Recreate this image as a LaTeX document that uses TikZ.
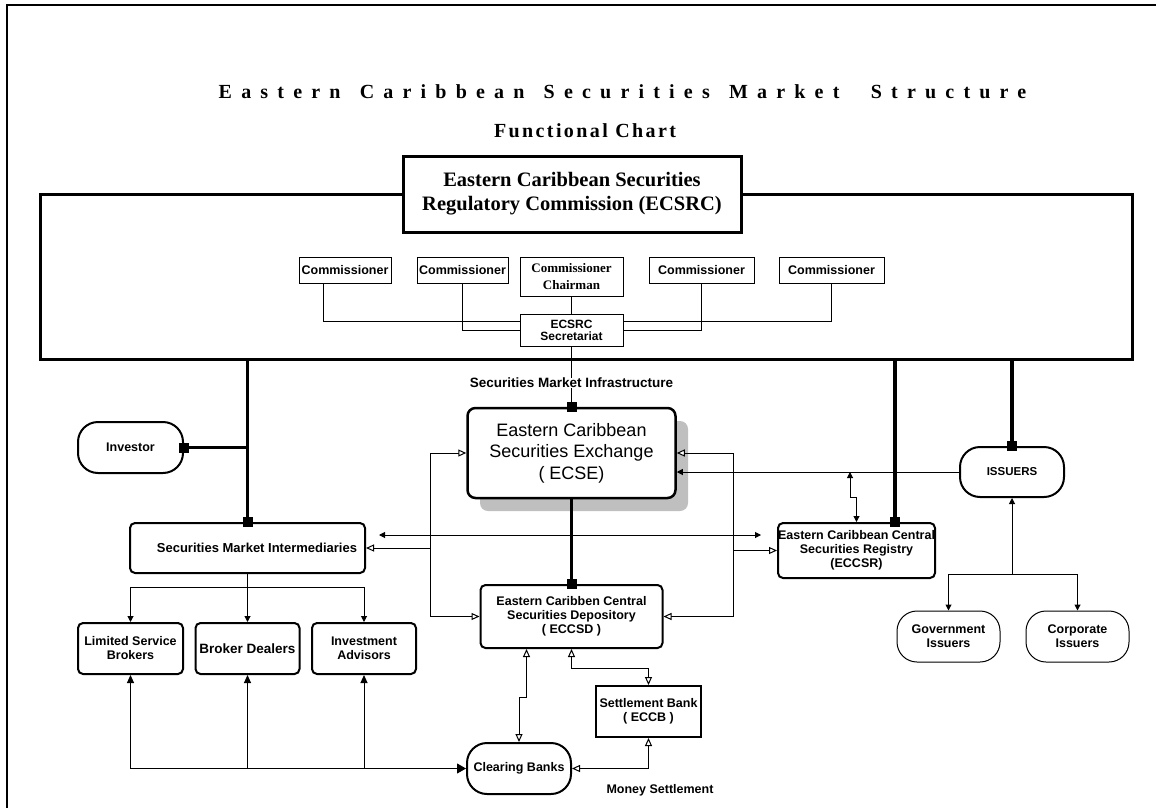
\documentclass[tikz,border=0pt]{standalone}
\usepackage{fontspec}
\setmainfont{Liberation Serif}
\setsansfont{Liberation Sans}
\newfontfamily\titlefont[LetterSpace=46]{Liberation Serif}
\newfontfamily\chartfont[LetterSpace=12]{Liberation Serif}
\usetikzlibrary{arrows.meta,shadows}

\begin{document}
\begin{tikzpicture}[x=1pt, y=-1pt, line width=1pt,
    lbl/.style={font=\sffamily\bfseries\fontsize{12.5}{14}\selectfont, align=center, inner sep=0pt},
    cbox/.style={draw, fill=white, lbl},
    rbox/.style={draw, fill=white, rounded corners=5pt, line width=2pt, lbl},
    pill/.style={draw, fill=white, rounded corners=20pt, line width=2pt, lbl},
    thickln/.style={line width=3.5pt},
    sqtip/.style={-{Square[length=10pt,width=10pt]}, shorten >=-5pt},
    solid/.style={-{Triangle[length=6pt,width=6pt]}},
    solidboth/.style={{Triangle[length=6pt,width=6pt]}-{Triangle[length=6pt,width=6pt]}},
    hollow/.style={-{Triangle[open,length=8pt,width=7pt,fill=white]}},
    hollowboth/.style={{Triangle[open,length=8pt,width=7pt,fill=white]}-{Triangle[open,length=8pt,width=7pt,fill=white]}}
]
    \def\wgap{\hspace{5pt}}
    \useasboundingbox (0,0) rectangle (1156,808);
    \draw[line width=2pt] (7,808) -- (7,5) -- (1156,5);

    % titles
    \node[font=\titlefont\bfseries\fontsize{20}{22}\selectfont, anchor=base] (title) at (622.5,98)
        {Eastern\wgap{} Caribbean\wgap{} Securities\wgap{} Market\ \ \hspace{3pt}Structure};
    \node[font=\chartfont\bfseries\fontsize{20}{22}\selectfont, anchor=base] (chart) at (585,137) {Functional Chart};

    % commission
    \node[draw, line width=3pt, minimum width=1092pt, minimum height=165pt] (board) at (586,276.5) {};
    \node[draw, fill=white, line width=3pt, minimum width=338pt, minimum height=76pt, align=center,
          font=\bfseries\fontsize{20.5}{24}\selectfont] (ecsrc) at (572,194) {Eastern Caribbean Securities\\Regulatory Commission (ECSRC)};
    \foreach \x/\w/\n in {345/92/c1, 462.5/91/c2, 701.5/105/c4, 831.5/105/c5}
        \node[cbox, minimum width=\w pt, minimum height=26pt] (\n) at (\x,270) {Commissioner};
    \node[cbox, minimum width=103pt, minimum height=39pt, font=\bfseries\fontsize{13}{17}\selectfont] (chair) at (571.5,276.5) {Commissioner\\Chairman};
    \node[cbox, minimum width=103pt, minimum height=32pt, font=\sffamily\bfseries\fontsize{12}{12}\selectfont] (sec) at (571.5,330) {ECSRC\\Secretariat};
    \draw ([xshift=-22pt]c1.south) |- ([yshift=9pt]sec.west);
    \draw (c2.south) |- (sec.west);
    \draw (c4.south) |- (sec.east);
    \draw (c5.south) |- ([yshift=9pt]sec.east);
    \draw (chair.south) -- (sec.north);

    % infrastructure
    \node[lbl, font=\sffamily\bfseries\fontsize{13.5}{15}\selectfont] (smi) at (571.5,383) {Securities Market Infrastructure};
    \node[draw, fill=white, rounded corners=8pt, line width=2.5pt, minimum width=208pt, minimum height=90pt, align=center,
          font=\sffamily\fontsize{18}{21.5}\selectfont,
          drop shadow={shadow xshift=12.5pt, shadow yshift=-13pt, fill=black!25, opacity=1}] (ecse) at (571.5,453) {Eastern Caribbean\\Securities Exchange\\( ECSE)};
    \node[rbox, minimum width=182pt, minimum height=63pt] (eccsd) at (571.5,616.5) {Eastern Caribben Central\\Securities Depository\\( ECCSD )};
    \node[rbox, minimum width=157pt, minimum height=55pt] (eccsr) at (856.5,550.5) {Eastern Caribbean Central\\Securities Registry\\(ECCSR)};
    \node[cbox, line width=2pt, minimum width=105pt, minimum height=51pt] (sb) at (648.5,711.5) {Settlement Bank\\( ECCB )};
    \node[pill, minimum width=104pt, minimum height=51pt] (cb) at (519,768.5) {Clearing Banks};
    \node[lbl] (money) at (660,790) {Money Settlement};

    % market side
    \node[pill, minimum width=105pt, minimum height=51pt] (inv) at (130.5,447.5) {Investor};
    \node[rbox, minimum width=235pt, minimum height=50pt, font=\sffamily\bfseries\fontsize{13}{14}\selectfont] (inter) at (247.5,548) {\hspace{19pt}Securities Market Intermediaries};
    \node[rbox, minimum width=105pt, minimum height=51pt] (lsb) at (130.5,648.5) {Limited Service\\Brokers};
    \node[rbox, minimum width=104pt, minimum height=51pt, font=\sffamily\bfseries\fontsize{13.5}{14}\selectfont] (bd) at (247.5,648.5) {Broker Dealers};
    \node[rbox, minimum width=104pt, minimum height=51pt] (ia) at (364,648.5) {Investment\\Advisors};
    \node[pill, minimum width=104pt, minimum height=50pt, font=\sffamily\bfseries\fontsize{11.5}{14}\selectfont] (issuers) at (1012,472) {ISSUERS};
    \node[pill, line width=1pt, minimum width=103pt, minimum height=51pt] (gov) at (948.5,636.5) {Government\\Issuers};
    \node[pill, line width=1pt, minimum width=103pt, minimum height=51pt] (corp) at (1077.5,636.5) {Corporate\\Issuers};

    % thick links
    \draw (sec.south) -- (sec.south |- smi.north);
    \draw[sqtip] (smi.south -| ecse.north) -- (ecse.north);
    \draw[thickln, sqtip] (board.south -| inter.north) -- (inter.north);
    \draw[thickln, sqtip] (inter.north |- inv.east) -- (inv.east);
    \coordinate (regtop) at ([xshift=38.5pt]eccsr.north);
    \draw[thickln, sqtip] (board.south -| regtop) -- (regtop);
    \draw[thickln, sqtip] (board.south -| issuers.north) -- (issuers.north);
    \draw[line width=2.5pt, sqtip] (ecse.south) -- (eccsd.north);

    % left and right bus
    \coordinate (lbus) at (430,548);
    \coordinate (rbus) at (733,550.5);
    \draw[hollow] (lbus) |- (ecse.west);
    \draw[hollow] (lbus) |- (eccsd.west);
    \draw[hollow] (lbus) -- (inter.east);
    \draw[hollow] (rbus) |- (ecse.east);
    \draw[hollow] (rbus) |- (eccsd.east);
    \draw[hollow] (rbus) -- (eccsr.west);
    \draw[solidboth, shorten <=13pt, shorten >=16pt] ([yshift=13pt]inter.east) -- ([yshift=13pt]inter.east -| eccsr.west);

    % issuers
    \draw[solid] (issuers.west) -- (issuers.west -| ecse.east);
    \coordinate (tap) at (850,472);
    \draw[solidboth] (tap) -- ++(0,25) -| (eccsr.north);
    \coordinate (fork) at ([yshift=-76pt]issuers.south);
    \draw[solid] (fork) -- (issuers.south);
    \draw[solid] (fork) -| (gov.north);
    \draw[solid] (fork) -| (corp.north);

    % intermediaries
    \foreach \b in {lsb, bd, ia}
        \draw[solid] (inter.south) -- ++(0,13) -| (\b.north);
    \draw[-{Triangle[length=9pt,width=10pt]}] (lsb.south |- cb.west) -- (cb.west);
    \foreach \b in {lsb, bd, ia}
        \draw[-{Triangle[length=8pt,width=7pt]}] (\b.south |- cb.west) -- (\b.south);

    % settlement
    \draw[hollowboth] ([xshift=-45pt]eccsd.south) -- ++(0,48) -| (cb.north);
    \draw[hollowboth] (eccsd.south) -- ++(0,19) -| (sb.north);
    \draw[hollowboth] (sb.south) |- (cb.east);
\end{tikzpicture}
\end{document}
